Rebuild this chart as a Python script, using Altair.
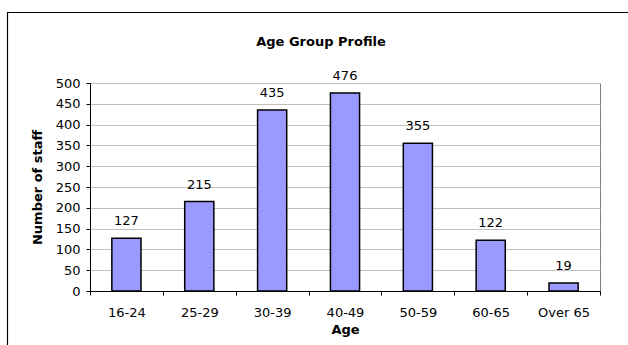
import altair as alt
import pandas as pd

# Staff counts by age band
age_groups = ["16-24", "25-29", "30-39", "40-49", "50-59", "60-65", "Over 65"]
staff_counts = [127, 215, 435, 476, 355, 122, 19]
y_ticks = [0, 50, 100, 150, 200, 250, 300, 350, 400, 450, 500]

df = pd.DataFrame({"age": age_groups, "staff": staff_counts})
frame_df = pd.DataFrame({"k": [0]})

FONT = "DejaVu Sans"

x_enc = alt.X(
    "age:N",
    sort=age_groups,
    title="Age",
    scale=alt.Scale(paddingInner=0, paddingOuter=0),
    axis=alt.Axis(
        labelAngle=0,
        tickBand="extent",
        tickSize=4,
        labelPadding=11,
        titlePadding=4,
    ),
)
y_enc = alt.Y(
    "staff:Q",
    title="Number of staff",
    scale=alt.Scale(domain=[0, 500], nice=False),
    axis=alt.Axis(
        values=y_ticks,
        labelOverlap=False,
        tickSize=4,
        labelPadding=6,
        titlePadding=11,
        grid=True,
    ),
)

bars = (
    alt.Chart(df)
    .mark_bar(width=alt.RelativeBandSize(0.4), color="#9999FF", stroke="black", strokeWidth=1.5)
    .encode(x=x_enc, y=y_enc)
)

labels = (
    alt.Chart(df)
    .mark_text(baseline="alphabetic", dy=-13, font=FONT, fontSize=13, color="black")
    .encode(x=x_enc, y=y_enc, text="staff:Q")
)

# Outer chart frame (top and left edges)
frame_top = alt.Chart(frame_df).mark_rule(color="black", strokeWidth=1.2).encode(
    x=alt.value(-83), x2=alt.value(540), y=alt.value(-70.5), y2=alt.value(-70.5)
)
frame_left = alt.Chart(frame_df).mark_rule(color="black", strokeWidth=1.2).encode(
    x=alt.value(-82.5), x2=alt.value(-82.5), y=alt.value(-71), y2=alt.value(265)
)

chart = (
    alt.layer(bars, labels, frame_top, frame_left)
    .properties(
        width=510,
        height=208,
        autosize=alt.AutoSizeParams(type="none"),
        padding={"left": 90, "top": 83, "right": 28, "bottom": 54},
        title=alt.TitleParams(
            "Age Group Profile",
            font=FONT,
            fontSize=13,
            fontWeight="bold",
            color="black",
            anchor="middle",
            frame="group",
            baseline="alphabetic",
            offset=-47.5,
            dx=-24,
        ),
    )
    .configure_view(stroke="#808080", strokeWidth=1)
    .configure_axis(
        labelFont=FONT,
        labelFontSize=13,
        labelColor="black",
        titleFont=FONT,
        titleFontSize=13,
        titleFontWeight="bold",
        titleColor="black",
        domainColor="black",
        domainWidth=1,
        tickColor="black",
        tickWidth=1,
        gridColor="#c0c0c0",
        gridWidth=1,
    )
    .configure_axisX(grid=False)
)

chart.save("out.html", embed_options={"renderer": "svg", "actions": False})
